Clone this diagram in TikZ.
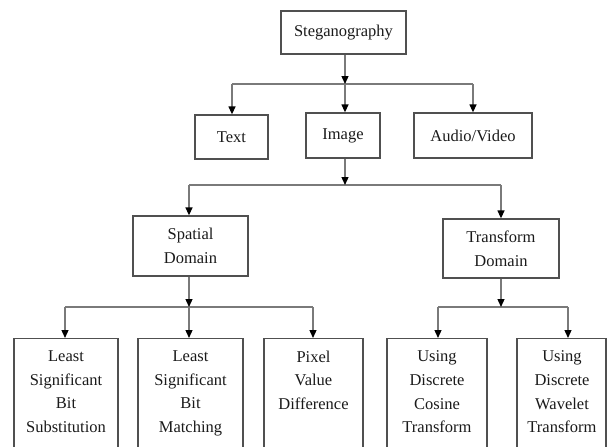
\documentclass[tikz,border=0pt]{standalone}
\usepackage{fontspec}
\setmainfont{Liberation Serif}
\usetikzlibrary{arrows.meta}
\definecolor{linec}{HTML}{7A7A7A}
\definecolor{boxc}{HTML}{505050}
\definecolor{txtc}{HTML}{1A1A1A}
\begin{document}
\begin{tikzpicture}[x=1pt,y=-1pt,
  box/.style={draw=boxc, line width=1.3pt, rectangle, inner sep=0pt, text=txtc, align=center,
    font={\fontsize{16.5}{24}\selectfont}},
  btext/.style={inner sep=0pt, text=txtc, align=center, anchor=north,
    font={\fontsize{16.5}{23.7}\selectfont}},
  conn/.style={draw=linec, line width=1.3pt},
  arr/.style={conn, -{Triangle[length=8pt,width=7pt,color=black]}}
]
\useasboundingbox (0,0) rectangle (608,447);
% level 0
\node[box, minimum width=125pt, minimum height=43pt] (steg) at (343.5,32.5) {Steganography};
% level 1
\node[box, minimum width=73pt, minimum height=44pt] (text) at (231.5,137) {Text};
\node[box, minimum width=74pt, minimum height=45pt] (image) at (343,135.5) {Image};
\node[box, minimum width=118pt, minimum height=45pt] (audio) at (473,135.5) {Audio/Video};
% level 2
\node[box, minimum width=115pt, minimum height=60pt] (spatial) at (190.5,246) {Spatial\\Domain};
\node[box, minimum width=116pt, minimum height=59pt] (transform) at (501,248.5) {Transform\\Domain};
% level 3 boxes
\node[box, anchor=north, minimum width=104pt, minimum height=125pt] (b1) at (66,338) {};
\node[box, anchor=north, minimum width=105pt, minimum height=125pt] (b2) at (190.5,338) {};
\node[box, anchor=north, minimum width=99pt, minimum height=125pt] (b3) at (313.5,338) {};
\node[box, anchor=north, minimum width=100pt, minimum height=125pt] (b4) at (437,338) {};
\node[box, anchor=north, minimum width=89pt, minimum height=125pt] (b5) at (561.5,338) {};
\node[btext] (t1) at (66,350.5) {Least\\Significant\\Bit\\Substitution};
\node[btext] (t2) at (190.5,350.5) {Least\\Significant\\Bit\\Matching};
\node[btext] (t3) at (313.5,350.5) {Pixel\\Value\\Difference};
\node[btext] (t4) at (437,350.5) {Using\\Discrete\\Cosine\\Transform};
\node[btext] (t5) at (562,350.5) {Using\\Discrete\\Wavelet\\Transform};
% junction coordinates
\coordinate (j0) at (345,84);
\coordinate (j0l) at (232,84);
\coordinate (j0r) at (473,84);
\coordinate (j1) at (345,185);
\coordinate (j1l) at (189,185);
\coordinate (j1r) at (501,185);
\coordinate (j2) at (189,307);
\coordinate (j2l) at (65,307);
\coordinate (j2r) at (313,307);
\coordinate (j3) at (501,307);
\coordinate (j3l) at (438,307);
\coordinate (j3r) at (568,307);
% connectors level 0 -> 1
\draw[conn] (j0l) -- (j0r);
\draw[arr] (j0 |- steg.south) -- (j0);
\draw[arr] (j0l) -- (j0l |- text.north);
\draw[arr] (j0) -- (j0 |- image.north);
\draw[arr] (j0r) -- (j0r |- audio.north);
% image -> level 2
\draw[conn] (j1l) -- (j1r);
\draw[arr] (j1 |- image.south) -- (j1);
\draw[arr] (j1l) -- (j1l |- spatial.north);
\draw[arr] (j1r) -- (j1r |- transform.north);
% spatial -> level 3
\draw[conn] (j2l) -- (j2r);
\draw[arr] (j2 |- spatial.south) -- (j2);
\draw[arr] (j2l) -- (j2l |- b1.north);
\draw[arr] (j2) -- (j2 |- b2.north);
\draw[arr] (j2r) -- (j2r |- b3.north);
% transform -> level 3
\draw[conn] (j3l) -- (j3r);
\draw[arr] (j3 |- transform.south) -- (j3);
\draw[arr] (j3l) -- (j3l |- b4.north);
\draw[arr] (j3r) -- (j3r |- b5.north);
\end{tikzpicture}
\end{document}
